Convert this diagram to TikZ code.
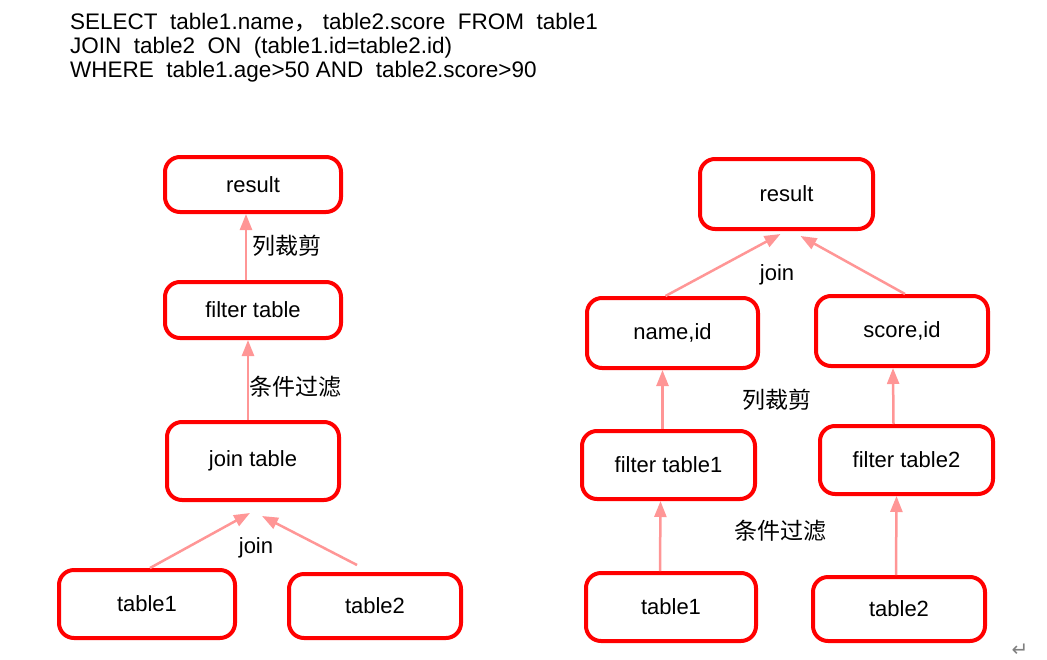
\documentclass[tikz,border=0pt]{standalone}
\usepackage{fontspec}
\setmainfont{Liberation Sans}
\newfontfamily\cjk{Noto Sans CJK SC}
\newfontfamily\symb{DejaVu Sans}
\usetikzlibrary{arrows.meta}
\definecolor{boxred}{RGB}{255,0,0}
\definecolor{arrowpink}{RGB}{255,150,150}

\begin{document}
\begin{tikzpicture}[x=1pt,y=-1pt,
  box/.style={draw=boxred,line width=4pt,rounded corners=15pt,minimum width=173pt,minimum height=68pt,font=\fontsize{22}{26}\selectfont},
  arr/.style={draw=arrowpink,line width=2.5pt,-{Triangle[length=16pt,width=12pt]}},
  lbl/.style={font=\cjk\fontsize{23}{26}\selectfont},
  joinlbl/.style={font=\fontsize{22}{26}\selectfont},
  sql/.style={anchor=base west,inner sep=0pt,font=\fontsize{22.5}{26}\selectfont}]
  \useasboundingbox (0,0) rectangle (1047,659);

  % query text
  \node[sql] (sql1) at (70,29) {SELECT\ \ table1.name{\cjk ，}\ table2.score\ \ FROM\ \ table1};
  \node[sql] (sql2) at (70,53) {JOIN\ \ table2\ \ ON\ \ (table1.id=table2.id)};
  \node[sql] (sql3) at (70,77) {WHERE\ \ table1.age>50 AND\ \ table2.score>90};

  % left plan
  \node[box,minimum width=176pt,minimum height=55pt] (lresult) at (253,184.5) {result};
  \node[box,minimum width=176pt,minimum height=56pt] (lfilter) at (253,310) {filter table};
  \node[box,minimum width=172pt,minimum height=78pt] (ljoin) at (253,461) {join table};
  \node[box,minimum width=176pt] (lt1) at (147,604) {table1};
  \node[box,minimum width=172pt,minimum height=64pt] (lt2) at (375,606) {table2};

  \draw[arr] ([xshift=-7pt]lfilter.north) -- ([xshift=-7pt]lresult.south);
  \draw[arr] ([xshift=-5pt]ljoin.north) -- ([xshift=-5pt]lfilter.south);
  \draw[arr] ([xshift=3pt]lt1.north) -- ([xshift=-3pt,yshift=-11pt]ljoin.south);
  \draw[arr] ([xshift=-18pt,yshift=7pt]lt2.north) -- ([xshift=9pt,yshift=-14pt]ljoin.south);

  \node[lbl] (lcut) at (287,246) {列裁剪};
  \node[lbl] (lcond) at (295,387) {条件过滤};
  \node[joinlbl] (ljoinlbl) at (256,548) {join};

  % right plan
  \node[box,minimum height=70pt] (rresult) at (786.5,194) {result};
  \node[box,minimum width=171pt,minimum height=70pt] (rnameid) at (672.5,333) {name,id};
  \node[box,minimum width=172pt,minimum height=70pt] (rscore) at (902,331) {score,id};
  \node[box] (rfilter1) at (668.5,465) {filter table1};
  \node[box] (rfilter2) at (906.5,460) {filter table2};
  \node[box,minimum width=170pt] (rt1) at (671,607) {table1};
  \node[box,minimum width=172pt,minimum height=64pt] (rt2) at (899,609) {table2};

  \draw[arr] ([xshift=-7pt]rnameid.north) -- ([xshift=-6pt,yshift=-3pt]rresult.south);
  \draw[arr] ([xshift=3pt]rscore.north) -- ([xshift=14pt,yshift=-5pt]rresult.south);
  \draw[arr] ([xshift=-6pt]rfilter1.north) -- ([xshift=-10pt]rnameid.south);
  \draw[arr] ([xshift=-13pt]rfilter2.north) -- ([xshift=-9pt]rscore.south);
  \draw[arr] ([xshift=-11pt]rt1.north) -- ([xshift=-8pt]rfilter1.south);
  \draw[arr] ([xshift=-3pt]rt2.north) -- ([xshift=-10pt]rfilter2.south);

  \node[joinlbl] (rjoinlbl) at (777,275) {join};
  \node[lbl] (rcut) at (777,400) {列裁剪};
  \node[lbl] (rcond) at (780,531) {条件过滤};

  \node[text=gray,font=\symb\fontsize{20}{24}\selectfont] (ret) at (1020,650) {↵};
\end{tikzpicture}
\end{document}
